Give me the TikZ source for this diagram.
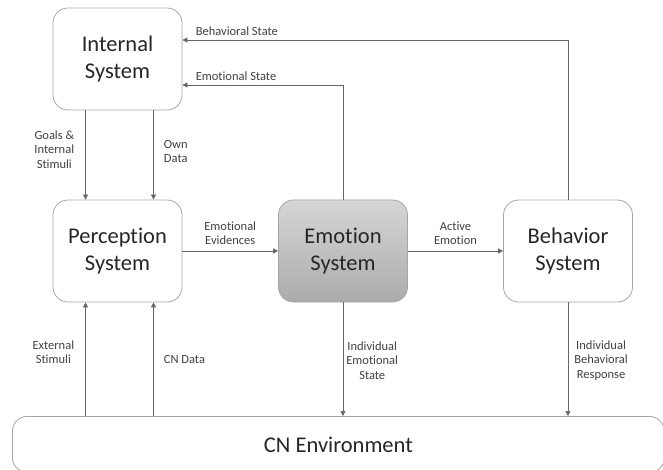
\documentclass[tikz,border=0pt]{standalone}
\usepackage{fontspec}
\setmainfont{Carlito}[Ligatures=CommonOff]
\usetikzlibrary{arrows.meta,positioning,calc}
\definecolor{boxline}{HTML}{A6A6A6}
\definecolor{flowline}{HTML}{666666}
\definecolor{emotop}{HTML}{D6D6D6}
\definecolor{emobot}{HTML}{ABABAB}

\begin{document}
\begin{tikzpicture}[x=1pt, y=-1pt,
    sysbox/.style={rectangle, draw=boxline, line width=0.8pt, rounded corners=15pt,
      minimum width=129pt, minimum height=102pt, align=center,
      font=\fontsize{22.5}{27}\selectfont, text=black!85},
    flow/.style={draw=flowline, line width=0.7pt, -{Triangle[width=5pt,length=5pt]}},
    lbl/.style={font=\fontsize{12.5}{14.5}\selectfont, text=black!75, align=center, inner sep=1pt}]
  \clip (0,0) rectangle (663,470);
  \node (int) at (117.5,59) [sysbox] {Internal\\System};
  \node (perc) at (117.5,251) [sysbox] {Perception\\System};
  \node (emo) at (343,251) [sysbox, top color=emotop, bottom color=emobot] {Emotion\\System};
  \node (beh) at (568,251) [sysbox] {Behavior\\System};
  \node (env) at (12,416) [sysbox, anchor=north west, minimum width=652pt, minimum height=56pt] {CN Environment};
  % internal -> perception
  \draw[flow] ([xshift=-32pt]int.south) -- node[lbl, left=10pt, pos=.44] {Goals \&\\Internal\\Stimuli} ([xshift=-32pt]perc.north);
  \draw[flow] ([xshift=36pt]int.south) -- node[lbl, right=9pt, pos=.46] {Own\\Data} ([xshift=36pt]perc.north);
  % main chain
  \draw[flow] (perc) -- node[lbl, above=5pt] {Emotional\\Evidences} (emo);
  \draw[flow] (emo) -- node[lbl, above=5pt] {Active\\Emotion} (beh);
  % feedback
  \draw[flow] (emo.north) |- node[lbl, pos=1, anchor=south west, xshift=12pt, yshift=3pt] {Emotional State} ([yshift=-26pt]int.east);
  \draw[flow] (beh.north) |- node[lbl, pos=1, anchor=south west, xshift=12pt, yshift=3pt] {Behavioral State} ([yshift=19pt]int.east);
  % environment
  \draw[flow] (emo.south) -- node[lbl, right=2pt, pos=.51] {Individual\\Emotional\\State} (emo.south |- env.north);
  \draw[flow] (beh.south) -- node[lbl, right=5pt, pos=.51] {Individual\\Behavioral\\Response} (beh.south |- env.north);
  \draw[flow] ([xshift=-32pt]perc.south |- env.north) -- node[lbl, left=10pt, pos=.56] {External\\Stimuli} ([xshift=-32pt]perc.south);
  \draw[flow] ([xshift=36pt]perc.south |- env.north) -- node[lbl, right=9pt, pos=.5] {CN Data} ([xshift=36pt]perc.south);
\end{tikzpicture}
\end{document}
